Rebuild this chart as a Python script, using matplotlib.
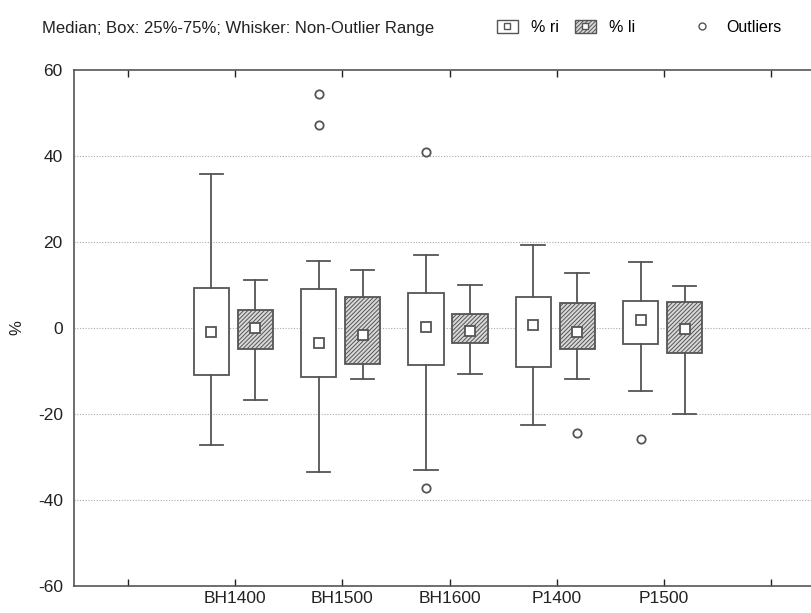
import matplotlib
matplotlib.use("Agg")
import matplotlib.pyplot as plt
from matplotlib.patches import Patch
from matplotlib.lines import Line2D

plt.rcParams['font.family'] = ['Liberation Sans', 'DejaVu Sans']
plt.rcParams['axes.unicode_minus'] = False
plt.rcParams['hatch.color'] = '#555555'
plt.rcParams['hatch.linewidth'] = 0.7

categories = ['BH1400', 'BH1500', 'BH1600', 'P1400', 'P1500']

# % ri
ri_med = [-1.0, -3.5, 0.2, 0.7, 1.9]
ri_q1 = [-10.9, -11.4, -8.6, -9.1, -3.7]
ri_q3 = [9.3, 9.0, 8.2, 7.2, 6.3]
ri_lo = [-27.2, -33.5, -33.0, -22.6, -14.7]
ri_hi = [35.8, 15.6, 17.0, 19.3, 15.3]
ri_out = [[], [54.5, 47.2], [40.9, -37.2], [], [-25.8]]

# % li
li_med = [0.0, -1.6, -0.7, -0.9, -0.2]
li_q1 = [-4.9, -8.3, -3.5, -4.9, -5.8]
li_q3 = [4.2, 7.2, 3.2, 5.8, 6.0]
li_lo = [-16.7, -11.9, -10.6, -11.9, -20.0]
li_hi = [11.2, 13.5, 10.0, 12.8, 9.8]
li_out = [[], [], [], [-24.4], []]

gray = '#555555'
fig = plt.figure(figsize=(8.12, 6.13), dpi=100)
ax = fig.add_axes([0.0911, 0.044, 0.925, 0.842])


def make_stats(med, q1, q3, lo, hi, out):
    stats = []
    for i in range(len(med)):
        stats.append({'med': med[i], 'q1': q1[i], 'q3': q3[i],
                      'whislo': lo[i], 'whishi': hi[i], 'fliers': out[i]})
    return stats


pos = [i + 2 for i in range(len(categories))]
common = dict(widths=0.33, capwidths=0.22, patch_artist=True, showmeans=False,
              whiskerprops=dict(color=gray, lw=1.3),
              capprops=dict(color=gray, lw=1.3),
              medianprops=dict(marker='s', ms=7, mfc='white', mec=gray, mew=1.3,
                               ls='none'),
              flierprops=dict(marker='o', ms=6, mfc='white', mec=gray, mew=1.3))

ri_pos = [p - 0.22 for p in pos]
li_pos = [p + 0.19 for p in pos]
b1 = ax.bxp(make_stats(ri_med, ri_q1, ri_q3, ri_lo, ri_hi, ri_out),
            positions=ri_pos,
            boxprops=dict(facecolor='white', edgecolor=gray, lw=1.3), **common)
b2 = ax.bxp(make_stats(li_med, li_q1, li_q3, li_lo, li_hi, li_out),
            positions=li_pos,
            boxprops=dict(facecolor='#d9d9d9', edgecolor=gray, lw=1.3, hatch='////////'),
            **common)
# one square marker in the middle of each box instead of a median line
for b, xs, meds in ((b1, ri_pos, ri_med), (b2, li_pos, li_med)):
    for m, x, v in zip(b['medians'], xs, meds):
        m.set_data([x], [v])
        m.set_zorder(5)

ax.set_xlim(0.5, 7.5)
ax.set_ylim(-60, 60)
ax.set_xticks(range(1, 8))
ax.set_xticklabels([''] + categories + [''])
ax.set_yticks([-60, -40, -20, 0, 20, 40, 60])
for y in [-40, -20, 0, 20, 40]:
    ax.axhline(y, color='#aaaaaa', lw=0.8, ls=(0, (1, 1.5)), zorder=0)

ax.tick_params(direction='in', top=True, right=False, labelsize=12.5, colors='#222222',
               length=5, width=1)
ax.tick_params(axis='y', length=0, pad=8)
for s in ax.spines.values():
    s.set_color('#555555')
    s.set_linewidth(1.2)
ax.set_ylabel('%', fontsize=12, color='#222222', labelpad=10)

fig.text(0.052, 0.953, 'Median; Box: 25%-75%; Whisker: Non-Outlier Range',
         fontsize=12, color='#222222', va='center')

# legend: three separate entries, placed like the original header
h_ri = (Patch(facecolor='white', edgecolor=gray, lw=1),
        Line2D([], [], marker='s', ms=5, mfc='white', mec=gray, ls='none'))
h_li = (Patch(facecolor='#d9d9d9', edgecolor=gray, lw=1, hatch='////////'),
        Line2D([], [], marker='s', ms=5, mfc='white', mec=gray, ls='none'))
h_out = Line2D([], [], marker='o', ms=5, mfc='white', mec=gray, ls='none')
leg_items = [(h_ri, '% ri', 0.612), (h_li, '% li', 0.708), (h_out, 'Outliers', 0.852)]
for h, lab, x0 in leg_items:
    fig.legend([h], [lab], loc='center left', bbox_to_anchor=(x0, 0.955),
               frameon=False, fontsize=11.5, handlelength=1.3, handleheight=0.85,
               handletextpad=0.85, borderpad=0, borderaxespad=0)

fig.savefig('out.png', dpi=100)
